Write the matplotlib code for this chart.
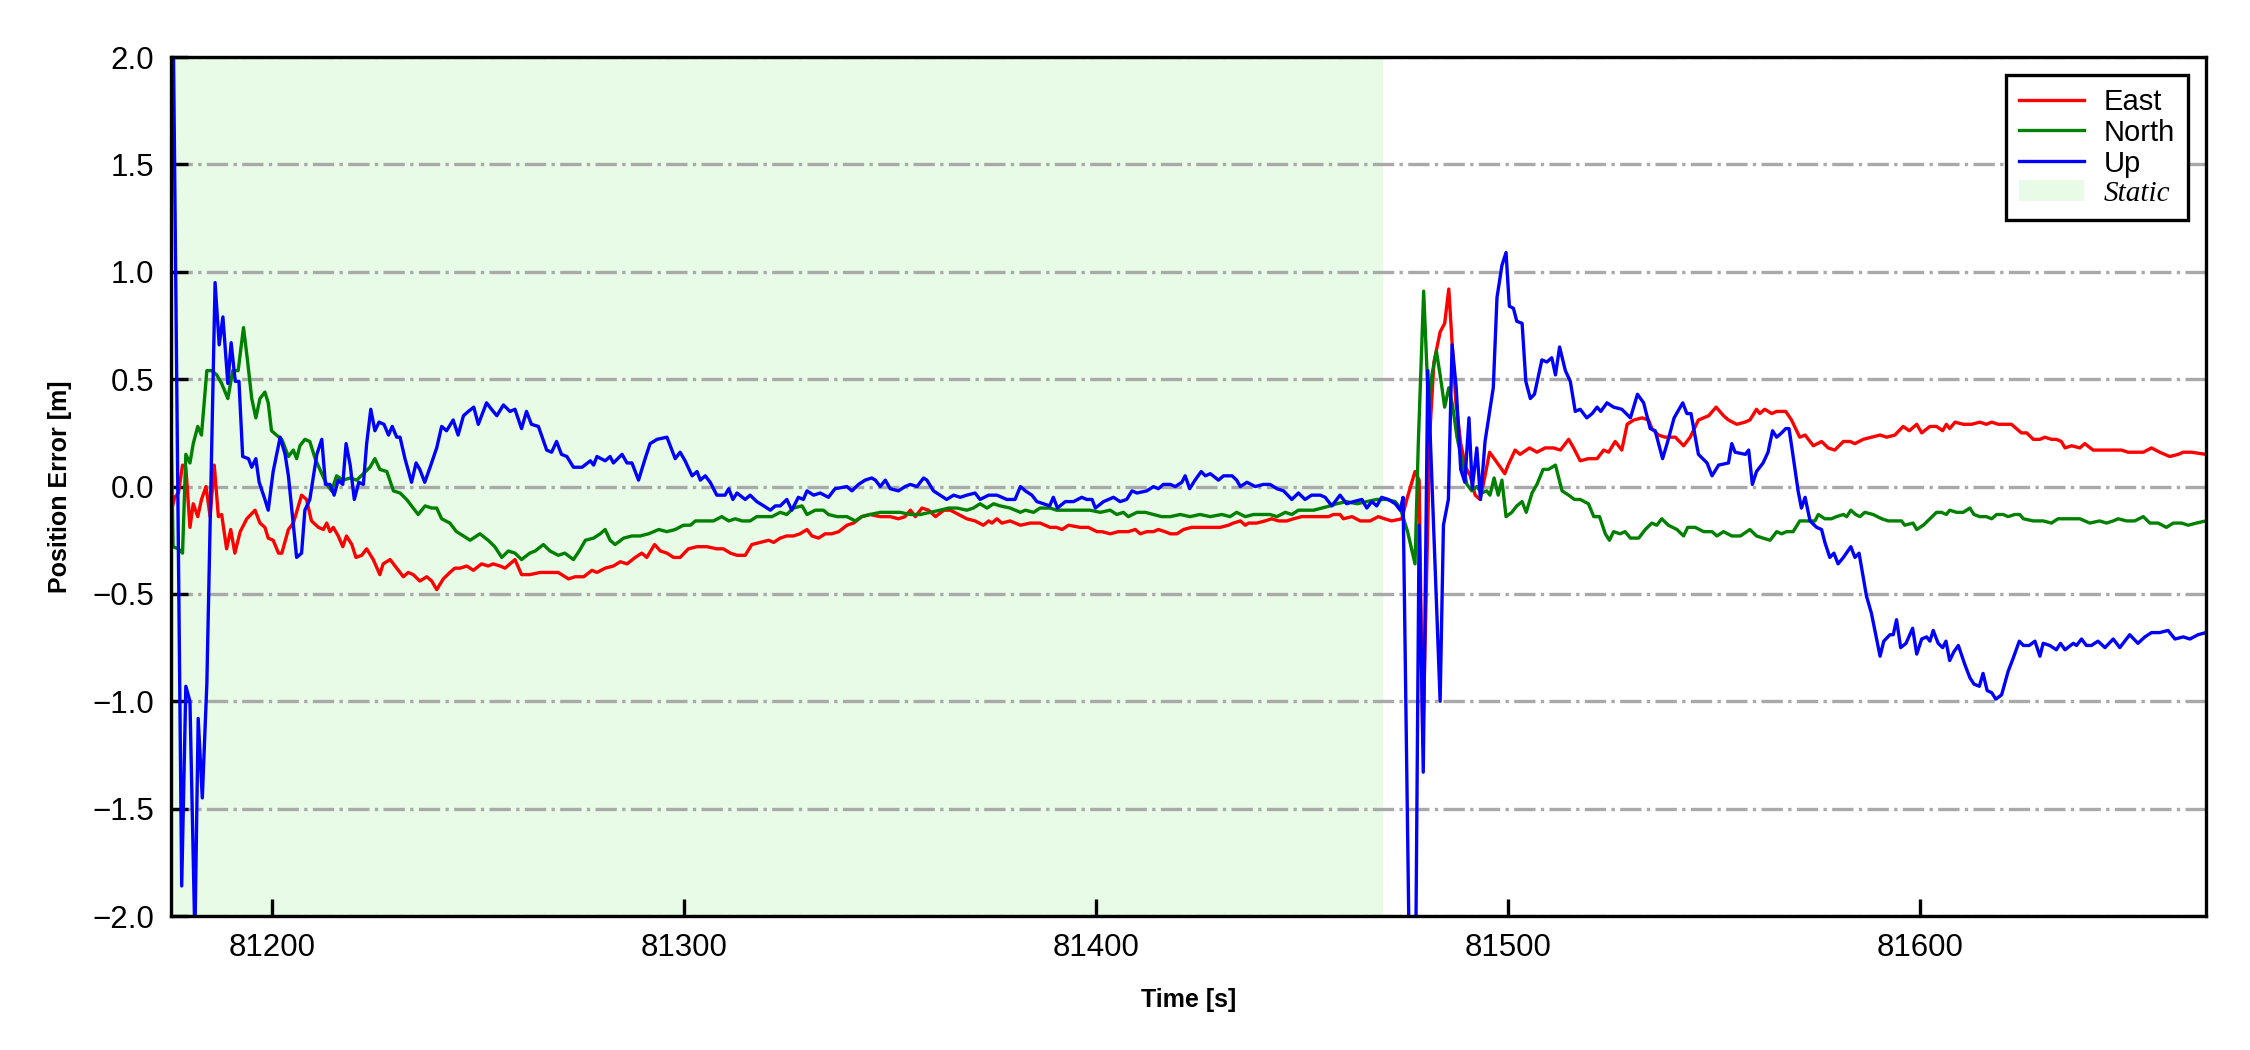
import matplotlib
matplotlib.use("Agg")
import matplotlib.pyplot as plt
from matplotlib.patches import Patch

plt.rcParams["font.family"] = ["Liberation Sans", "DejaVu Sans"]

# static period (start, end) [s]
STATIC_SPAN = (81175.4, 81469.7)
X_RANGE = (81175.4, 81669.4)

east_t = [81175.4, 81176.3, 81177.2, 81178.2, 81179.0, 81180.0, 81180.8, 81181.9, 81182.8, 81183.9,
          81184.9, 81185.9, 81186.9, 81187.7, 81188.9, 81189.9, 81190.9, 81192.2, 81193.8, 81195.8,
          81197.0, 81198.2, 81199.0, 81200.2, 81201.5, 81202.3, 81203.9, 81205.1, 81207.1, 81208.3,
          81209.5, 81211.2, 81212.4, 81213.2, 81214.0, 81214.8, 81216.0, 81217.1, 81218.0, 81219.3,
          81220.3, 81221.7, 81222.9, 81224.5, 81226.1, 81226.9, 81228.6, 81230.2, 81231.8, 81233.0,
          81234.2, 81235.8, 81237.5, 81238.7, 81239.9, 81241.5, 81243.1, 81244.3, 81245.6, 81247.2,
          81248.8, 81250.8, 81252.4, 81253.6, 81255.3, 81256.5, 81257.7, 81258.9, 81260.5, 81262.5,
          81265.0, 81267.4, 81269.4, 81271.9, 81273.5, 81275.6, 81277.6, 81278.8, 81280.8, 81282.8,
          81284.5, 81286.1, 81288.1, 81289.7, 81290.9, 81292.8, 81294.2, 81295.8, 81297.4, 81299.0,
          81301.0, 81303.1, 81305.5, 81307.9, 81309.5, 81311.2, 81312.8, 81314.8, 81316.4, 81318.4,
          81320.5, 81321.7, 81323.3, 81324.9, 81326.5, 81328.1, 81329.8, 81331.0, 81332.6, 81334.2,
          81335.8, 81337.5, 81339.5, 81341.1, 81343.1, 81345.1, 81347.6, 81350.0, 81352.0, 81353.6,
          81354.9, 81356.1, 81357.7, 81359.3, 81361.0, 81363.0, 81364.6, 81366.6, 81368.6, 81370.6,
          81372.6, 81373.9, 81374.7, 81375.9, 81377.1, 81379.1, 81381.6, 81384.0, 81386.4, 81388.8,
          81390.4, 81391.7, 81393.3, 81396.1, 81398.1, 81400.2, 81401.4, 81403.4, 81405.4, 81407.8,
          81409.5, 81410.7, 81412.3, 81413.9, 81415.1, 81416.7, 81418.0, 81419.6, 81421.2, 81423.2,
          81425.6, 81428.1, 81430.1, 81432.1, 81433.3, 81435.0, 81436.2, 81437.0, 81439.0, 81441.0,
          81442.6, 81444.3, 81446.3, 81447.9, 81449.9, 81451.9, 81454.4, 81456.4, 81457.6, 81459.2,
          81460.0, 81462.1, 81464.1, 81466.5, 81468.5, 81470.0, 81471.7, 81474.2, 81475.4, 81477.4,
          81478.4, 81479.3, 81481.0, 81482.0, 81483.5, 81484.6, 81485.6, 81486.4, 81487.3, 81488.5,
          81489.7, 81490.8, 81492.0, 81493.2, 81494.4, 81495.5, 81497.0, 81499.2, 81500.0, 81501.7,
          81502.9, 81505.2, 81507.0, 81509.0, 81511.0, 81512.7, 81514.7, 81515.9, 81517.5, 81519.5,
          81521.6, 81523.2, 81524.4, 81526.0, 81527.6, 81528.9, 81530.5, 81532.5, 81534.1, 81534.9,
          81536.5, 81538.1, 81540.6, 81542.6, 81544.2, 81546.2, 81548.7, 81550.5, 81552.3, 81553.5,
          81555.5, 81557.5, 81558.7, 81560.3, 81561.1, 81562.3, 81564.0, 81565.2, 81567.4, 81568.8,
          81570.8, 81572.1, 81574.1, 81576.1, 81577.7, 81579.3, 81581.4, 81583.0, 81584.2, 81586.2,
          81588.2, 81590.3, 81591.9, 81593.9, 81595.9, 81597.4, 81599.2, 81600.4, 81602.4, 81604.0,
          81605.5, 81606.4, 81607.2, 81608.5, 81610.5, 81612.5, 81614.5, 81616.1, 81617.4, 81619.0,
          81620.6, 81622.2, 81623.4, 81624.6, 81625.9, 81627.5, 81629.1, 81630.3, 81631.9, 81633.1,
          81634.3, 81635.2, 81636.8, 81638.8, 81640.0, 81642.0, 81644.5, 81646.9, 81648.9, 81650.5,
          81652.6, 81654.2, 81656.2, 81658.2, 81660.6, 81662.7, 81663.9, 81665.9, 81669.4]
east = [-0.12, -0.05, -0.03, 0.10, 0.09, -0.19, -0.08, -0.14, -0.06, 0.00,
        -0.14, 0.10, -0.14, -0.13, -0.29, -0.20, -0.31, -0.21, -0.15, -0.11,
        -0.17, -0.19, -0.24, -0.25, -0.31, -0.31, -0.20, -0.17, -0.04, -0.06,
        -0.16, -0.19, -0.20, -0.17, -0.21, -0.19, -0.23, -0.28, -0.23, -0.27,
        -0.33, -0.32, -0.29, -0.34, -0.41, -0.36, -0.34, -0.38, -0.42, -0.40,
        -0.41, -0.44, -0.42, -0.44, -0.48, -0.43, -0.40, -0.38, -0.38, -0.37,
        -0.39, -0.36, -0.37, -0.36, -0.37, -0.38, -0.36, -0.34, -0.41, -0.41,
        -0.40, -0.40, -0.40, -0.43, -0.42, -0.42, -0.39, -0.40, -0.38, -0.37,
        -0.35, -0.36, -0.33, -0.31, -0.33, -0.27, -0.30, -0.31, -0.33, -0.33,
        -0.29, -0.28, -0.28, -0.29, -0.29, -0.31, -0.32, -0.32, -0.27, -0.26,
        -0.25, -0.26, -0.24, -0.23, -0.23, -0.22, -0.20, -0.23, -0.24, -0.22,
        -0.22, -0.21, -0.18, -0.17, -0.14, -0.13, -0.14, -0.14, -0.15, -0.14,
        -0.11, -0.14, -0.10, -0.11, -0.14, -0.11, -0.11, -0.13, -0.15, -0.16,
        -0.18, -0.16, -0.17, -0.15, -0.17, -0.16, -0.18, -0.17, -0.17, -0.19,
        -0.19, -0.20, -0.18, -0.19, -0.19, -0.21, -0.21, -0.22, -0.21, -0.21,
        -0.20, -0.22, -0.21, -0.21, -0.20, -0.21, -0.22, -0.22, -0.20, -0.19,
        -0.19, -0.19, -0.19, -0.18, -0.17, -0.16, -0.18, -0.17, -0.17, -0.16,
        -0.15, -0.16, -0.16, -0.15, -0.14, -0.14, -0.14, -0.14, -0.13, -0.13,
        -0.15, -0.14, -0.16, -0.16, -0.14, -0.15, -0.16, -0.15, -0.06, 0.07,
        0.03, -1.20, 0.25, 0.58, 0.72, 0.76, 0.92, 0.67, 0.40, 0.20,
        0.09, 0.05, -0.04, -0.06, 0.05, 0.16, 0.12, 0.06, 0.10, 0.17,
        0.15, 0.18, 0.16, 0.18, 0.18, 0.17, 0.22, 0.18, 0.12, 0.13,
        0.13, 0.17, 0.16, 0.21, 0.17, 0.29, 0.31, 0.32, 0.31, 0.27,
        0.24, 0.23, 0.23, 0.19, 0.23, 0.31, 0.33, 0.37, 0.33, 0.31,
        0.29, 0.30, 0.31, 0.36, 0.34, 0.36, 0.34, 0.35, 0.35, 0.31,
        0.23, 0.24, 0.19, 0.21, 0.18, 0.17, 0.21, 0.21, 0.20, 0.22,
        0.23, 0.24, 0.23, 0.24, 0.28, 0.26, 0.29, 0.25, 0.28, 0.28,
        0.26, 0.29, 0.27, 0.30, 0.29, 0.29, 0.30, 0.29, 0.30, 0.29,
        0.29, 0.29, 0.27, 0.25, 0.25, 0.22, 0.22, 0.23, 0.22, 0.22,
        0.21, 0.18, 0.19, 0.18, 0.20, 0.17, 0.17, 0.17, 0.17, 0.16,
        0.16, 0.16, 0.18, 0.16, 0.14, 0.15, 0.16, 0.16, 0.15]

north_t = [81175.4, 81175.9, 81177.2, 81178.2, 81179.0, 81180.0, 81180.8, 81181.9, 81182.8, 81184.1,
           81185.3, 81186.5, 81187.7, 81189.2, 81190.4, 81191.7, 81193.0, 81193.9, 81195.0, 81196.0,
           81197.0, 81198.2, 81199.0, 81199.8, 81201.0, 81202.3, 81203.9, 81205.1, 81205.9, 81206.7,
           81207.9, 81209.1, 81210.4, 81212.0, 81213.2, 81214.4, 81215.6, 81217.2, 81218.9, 81220.5,
           81222.1, 81223.7, 81224.9, 81226.1, 81227.8, 81229.4, 81231.0, 81232.6, 81234.2, 81235.4,
           81237.1, 81238.7, 81239.9, 81241.1, 81243.1, 81244.7, 81246.4, 81248.0, 81250.4, 81252.4,
           81254.0, 81255.7, 81257.3, 81258.9, 81260.5, 81262.5, 81263.8, 81265.8, 81267.4, 81269.4,
           81271.0, 81273.1, 81274.5, 81276.0, 81278.0, 81279.6, 81280.8, 81282.0, 81283.2, 81285.3,
           81287.3, 81289.3, 81291.3, 81292.6, 81293.8, 81295.8, 81297.8, 81299.8, 81301.5, 81302.7,
           81303.9, 81305.5, 81307.1, 81309.1, 81310.8, 81312.4, 81314.0, 81316.0, 81317.6, 81319.3,
           81321.3, 81323.3, 81324.9, 81326.5, 81328.6, 81329.8, 81331.8, 81333.8, 81335.0, 81337.1,
           81339.5, 81341.5, 81343.1, 81345.1, 81347.6, 81350.0, 81352.4, 81354.9, 81357.3, 81359.7,
           81362.1, 81364.2, 81366.2, 81368.6, 81370.2, 81371.8, 81373.5, 81375.1, 81376.7, 81379.1,
           81381.6, 81382.8, 81384.8, 81386.4, 81388.8, 81390.4, 81392.9, 81395.3, 81398.5, 81401.0,
           81403.4, 81405.0, 81406.6, 81407.8, 81409.9, 81411.9, 81413.9, 81415.9, 81418.0, 81420.4,
           81422.8, 81425.2, 81427.7, 81430.5, 81432.5, 81434.1, 81436.2, 81438.2, 81440.2, 81442.2,
           81443.9, 81445.9, 81447.5, 81449.1, 81450.7, 81452.8, 81454.8, 81456.8, 81458.4, 81460.8,
           81463.3, 81465.7, 81468.1, 81470.5, 81472.6, 81473.8, 81475.6, 81477.4, 81478.2, 81479.5,
           81480.7, 81481.5, 81482.6, 81483.5, 81484.6, 81485.6, 81486.5, 81487.6, 81488.8, 81490.0,
           81491.2, 81492.4, 81493.6, 81494.8, 81495.6, 81496.6, 81497.6, 81498.5, 81499.5, 81500.9,
           81502.1, 81503.4, 81504.4, 81505.8, 81507.0, 81508.5, 81509.8, 81511.5, 81513.1, 81514.7,
           81516.1, 81517.5, 81519.5, 81520.8, 81522.2, 81523.6, 81524.6, 81525.6, 81527.2, 81528.4,
           81529.7, 81531.7, 81533.3, 81534.9, 81536.1, 81537.3, 81538.9, 81541.0, 81542.6, 81543.6,
           81545.4, 81547.5, 81549.5, 81550.7, 81552.3, 81554.3, 81556.4, 81558.7, 81560.3, 81561.9,
           81563.6, 81565.2, 81566.4, 81567.6, 81569.2, 81570.8, 81572.5, 81574.5, 81575.3, 81576.9,
           81578.5, 81579.7, 81581.4, 81582.2, 81583.2, 81584.4, 81585.4, 81586.6, 81588.6, 81590.7,
           81592.3, 81593.9, 81595.5, 81596.3, 81598.3, 81599.2, 81600.8, 81602.4, 81604.0, 81605.2,
           81606.4, 81607.2, 81608.9, 81610.5, 81612.1, 81613.1, 81614.5, 81616.1, 81617.4, 81618.6,
           81620.2, 81621.4, 81623.0, 81624.2, 81625.1, 81627.5, 81629.9, 81631.9, 81633.5, 81635.2,
           81637.2, 81638.8, 81641.2, 81643.6, 81645.3, 81646.9, 81648.1, 81650.1, 81652.1, 81654.2,
           81655.8, 81657.8, 81659.8, 81661.5, 81663.5, 81665.1, 81667.1, 81669.4]
north = [0.30, -0.28, -0.29, -0.31, 0.15, 0.11, 0.20, 0.28, 0.24, 0.54,
         0.54, 0.52, 0.48, 0.41, 0.54, 0.54, 0.74, 0.60, 0.41, 0.32,
         0.41, 0.44, 0.39, 0.26, 0.24, 0.22, 0.14, 0.17, 0.13, 0.19,
         0.22, 0.21, 0.13, 0.06, 0.01, -0.02, 0.05, 0.03, 0.04, 0.03,
         0.06, 0.09, 0.13, 0.08, 0.07, -0.02, -0.03, -0.06, -0.10, -0.13,
         -0.09, -0.10, -0.10, -0.15, -0.17, -0.21, -0.23, -0.25, -0.22, -0.25,
         -0.28, -0.33, -0.30, -0.31, -0.34, -0.31, -0.30, -0.27, -0.30, -0.32,
         -0.31, -0.34, -0.30, -0.25, -0.24, -0.22, -0.20, -0.25, -0.27, -0.24,
         -0.23, -0.23, -0.22, -0.21, -0.20, -0.21, -0.20, -0.18, -0.18, -0.16,
         -0.16, -0.16, -0.16, -0.14, -0.16, -0.15, -0.16, -0.16, -0.14, -0.14,
         -0.14, -0.12, -0.13, -0.10, -0.09, -0.13, -0.11, -0.11, -0.13, -0.14,
         -0.14, -0.16, -0.14, -0.13, -0.12, -0.12, -0.12, -0.13, -0.13, -0.12,
         -0.11, -0.10, -0.10, -0.11, -0.10, -0.08, -0.10, -0.08, -0.09, -0.10,
         -0.12, -0.11, -0.12, -0.10, -0.10, -0.11, -0.11, -0.11, -0.11, -0.12,
         -0.11, -0.13, -0.12, -0.14, -0.12, -0.12, -0.13, -0.14, -0.14, -0.13,
         -0.14, -0.13, -0.14, -0.13, -0.14, -0.12, -0.14, -0.13, -0.13, -0.13,
         -0.14, -0.12, -0.13, -0.11, -0.11, -0.11, -0.10, -0.09, -0.08, -0.07,
         -0.08, -0.07, -0.06, -0.06, -0.07, -0.10, -0.21, -0.36, 0.20, 0.91,
         0.36, 0.52, 0.63, 0.52, 0.37, 0.46, 0.38, 0.23, 0.12, 0.01,
         -0.02, 0.00, -0.03, -0.02, -0.04, 0.04, -0.04, 0.03, -0.14, -0.12,
         -0.09, -0.07, -0.12, -0.03, 0.01, 0.08, 0.08, 0.10, -0.02, -0.04,
         -0.06, -0.06, -0.08, -0.14, -0.14, -0.22, -0.25, -0.21, -0.22, -0.21,
         -0.24, -0.24, -0.20, -0.17, -0.18, -0.15, -0.18, -0.20, -0.23, -0.19,
         -0.19, -0.21, -0.21, -0.23, -0.21, -0.23, -0.23, -0.20, -0.23, -0.24,
         -0.25, -0.21, -0.22, -0.21, -0.21, -0.16, -0.16, -0.16, -0.13, -0.15,
         -0.15, -0.14, -0.13, -0.14, -0.11, -0.13, -0.14, -0.12, -0.13, -0.15,
         -0.16, -0.16, -0.16, -0.18, -0.17, -0.20, -0.18, -0.15, -0.12, -0.12,
         -0.13, -0.11, -0.12, -0.12, -0.10, -0.13, -0.14, -0.14, -0.15, -0.13,
         -0.13, -0.14, -0.13, -0.13, -0.15, -0.16, -0.16, -0.17, -0.15, -0.15,
         -0.15, -0.15, -0.17, -0.16, -0.17, -0.16, -0.15, -0.16, -0.16, -0.14,
         -0.17, -0.17, -0.19, -0.17, -0.17, -0.18, -0.17, -0.16]

up_t = [81175.4, 81178.0, 81179.0, 81180.0, 81181.2, 81182.0, 81183.0, 81184.1, 81186.1, 81187.1,
        81188.0, 81189.2, 81190.0, 81191.0, 81191.9, 81192.8, 81194.2, 81195.0, 81196.0, 81196.8,
        81198.2, 81199.0, 81200.2, 81201.9, 81203.1, 81203.9, 81205.9, 81207.1, 81207.9, 81209.1,
        81210.8, 81212.0, 81212.9, 81214.0, 81215.0, 81216.0, 81217.1, 81217.9, 81218.9, 81219.9,
        81221.0, 81222.1, 81222.9, 81223.9, 81224.9, 81225.9, 81227.1, 81228.2, 81229.1, 81230.2,
        81231.0, 81232.2, 81233.8, 81234.9, 81235.8, 81237.0, 81238.3, 81239.9, 81241.1, 81242.3,
        81243.9, 81245.1, 81246.4, 81247.6, 81248.9, 81250.0, 81250.8, 81252.0, 81253.2, 81254.5,
        81256.1, 81257.7, 81258.9, 81260.5, 81261.7, 81262.9, 81264.6, 81266.6, 81267.8, 81269.0,
        81270.2, 81271.5, 81273.1, 81275.2, 81277.2, 81278.0, 81278.8, 81280.8, 81282.0, 81282.8,
        81284.9, 81286.1, 81287.3, 81288.9, 81290.5, 81291.7, 81293.4, 81295.8, 81297.8, 81299.0,
        81300.2, 81301.9, 81303.1, 81303.9, 81305.1, 81306.3, 81307.9, 81309.9, 81310.8, 81311.8,
        81312.8, 81314.8, 81316.0, 81317.6, 81319.3, 81320.9, 81322.1, 81323.3, 81324.9, 81326.1,
        81327.7, 81328.9, 81329.8, 81331.4, 81333.0, 81335.0, 81336.6, 81339.5, 81340.7, 81342.3,
        81343.9, 81345.5, 81346.4, 81347.6, 81348.8, 81350.0, 81352.0, 81353.6, 81354.9, 81356.5,
        81358.1, 81358.9, 81360.5, 81362.1, 81363.7, 81365.4, 81367.0, 81368.6, 81370.6, 81371.8,
        81373.9, 81375.9, 81378.3, 81380.3, 81381.6, 81382.8, 81384.4, 81385.6, 81387.2, 81388.7,
        81389.6, 81390.6, 81392.5, 81394.5, 81396.5, 81397.7, 81399.0, 81399.8, 81401.8, 81404.2,
        81405.8, 81407.4, 81408.7, 81409.9, 81412.3, 81413.9, 81415.1, 81416.3, 81418.0, 81419.2,
        81420.8, 81421.6, 81422.7, 81424.0, 81425.5, 81426.5, 81427.7, 81429.7, 81430.9, 81433.0,
        81434.1, 81435.0, 81436.6, 81438.6, 81440.6, 81442.2, 81443.9, 81445.5, 81447.5, 81449.1,
        81450.7, 81452.3, 81454.4, 81455.6, 81457.2, 81459.2, 81460.8, 81462.5, 81464.5, 81465.7,
        81466.9, 81468.1, 81469.3, 81470.9, 81472.6, 81473.8, 81474.5, 81476.3, 81477.4, 81478.4,
        81479.4, 81480.5, 81483.5, 81484.3, 81485.5, 81486.4, 81487.4, 81488.5, 81489.5, 81490.5,
        81491.3, 81492.4, 81493.3, 81494.4, 81496.4, 81497.3, 81498.5, 81499.5, 81500.3, 81501.3,
        81502.1, 81503.4, 81504.3, 81505.4, 81506.4, 81508.2, 81509.4, 81510.6, 81511.5, 81512.5,
        81513.9, 81515.1, 81516.3, 81517.5, 81519.1, 81520.4, 81521.6, 81522.5, 81524.0, 81525.6,
        81527.6, 81529.7, 81531.4, 81532.9, 81534.5, 81535.7, 81537.5, 81538.6, 81540.3, 81542.4,
        81543.4, 81544.4, 81546.2, 81548.3, 81549.5, 81551.1, 81553.5, 81554.3, 81555.1, 81557.6,
        81558.4, 81559.3, 81560.3, 81561.9, 81563.1, 81564.2, 81565.2, 81566.4, 81567.4, 81568.2,
        81569.2, 81570.4, 81571.2, 81572.1, 81573.3, 81574.9, 81576.1, 81576.9, 81578.1, 81579.1,
        81580.1, 81581.4, 81583.2, 81584.2, 81585.2, 81587.0, 81588.2, 81590.3, 81591.2, 81592.7,
        81593.5, 81594.3, 81595.3, 81596.6, 81598.2, 81599.2, 81600.4, 81601.6, 81602.4, 81603.2,
        81604.4, 81605.5, 81606.3, 81607.2, 81608.2, 81609.3, 81610.9, 81612.1, 81613.1, 81614.4,
        81615.3, 81616.3, 81617.4, 81618.4, 81619.8, 81621.4, 81622.6, 81624.1, 81625.1, 81626.5,
        81627.9, 81629.1, 81629.9, 81631.5, 81633.1, 81634.1, 81635.2, 81637.2, 81638.0, 81639.2,
        81640.4, 81641.6, 81643.2, 81644.9, 81646.9, 81648.5, 81650.9, 81652.9, 81654.6, 81656.2,
        81658.2, 81660.2, 81661.9, 81663.9, 81665.5, 81667.5, 81669.4]
up = [3.20, -1.86, -0.93, -1.00, -2.10, -1.08, -1.45, -0.92, 0.95, 0.66,
      0.79, 0.48, 0.67, 0.49, 0.49, 0.14, 0.13, 0.09, 0.13, 0.02,
      -0.06, -0.11, 0.07, 0.23, 0.15, 0.05, -0.33, -0.31, -0.11, -0.06,
      0.15, 0.22, 0.01, 0.01, -0.04, 0.03, 0.01, 0.20, 0.10, -0.06,
      0.02, 0.01, 0.20, 0.36, 0.26, 0.30, 0.29, 0.24, 0.28, 0.23,
      0.23, 0.13, 0.02, 0.11, 0.08, 0.02, 0.09, 0.18, 0.28, 0.26,
      0.31, 0.24, 0.33, 0.35, 0.37, 0.29, 0.33, 0.39, 0.36, 0.33,
      0.38, 0.35, 0.36, 0.27, 0.35, 0.29, 0.28, 0.17, 0.16, 0.21,
      0.15, 0.14, 0.09, 0.09, 0.12, 0.10, 0.14, 0.12, 0.14, 0.11,
      0.15, 0.11, 0.11, 0.03, 0.13, 0.20, 0.22, 0.23, 0.13, 0.16,
      0.12, 0.05, 0.07, 0.03, 0.05, 0.02, -0.04, -0.04, -0.01, -0.06,
      -0.03, -0.06, -0.04, -0.07, -0.09, -0.11, -0.09, -0.09, -0.06, -0.11,
      -0.05, -0.06, -0.02, -0.04, -0.03, -0.05, -0.01, 0.00, -0.02, 0.01,
      0.03, 0.04, 0.03, 0.00, 0.03, -0.01, -0.02, 0.00, 0.01, 0.00,
      0.04, 0.03, -0.02, -0.04, -0.06, -0.04, -0.05, -0.04, -0.03, -0.06,
      -0.04, -0.04, -0.06, -0.06, 0.00, -0.02, -0.04, -0.07, -0.08, -0.09,
      -0.05, -0.10, -0.07, -0.07, -0.05, -0.06, -0.06, -0.10, -0.07, -0.05,
      -0.07, -0.06, -0.02, -0.03, -0.02, 0.00, -0.01, 0.01, 0.01, 0.00,
      0.02, 0.05, -0.01, 0.03, 0.07, 0.05, 0.06, 0.03, 0.05, 0.05,
      0.03, 0.00, 0.02, 0.00, 0.01, 0.01, -0.01, -0.02, -0.06, -0.03,
      -0.06, -0.04, -0.04, -0.05, -0.09, -0.04, -0.08, -0.07, -0.06, -0.10,
      -0.07, -0.09, -0.05, -0.06, -0.08, -0.11, -0.05, -2.60, -2.60, -0.18,
      -1.33, 0.54, -1.00, -0.18, -0.06, 0.66, 0.46, 0.08, 0.02, 0.32,
      -0.01, 0.18, -0.06, 0.21, 0.46, 0.88, 1.03, 1.09, 0.84, 0.83,
      0.77, 0.76, 0.49, 0.41, 0.43, 0.59, 0.58, 0.60, 0.52, 0.65,
      0.54, 0.49, 0.35, 0.36, 0.32, 0.34, 0.37, 0.35, 0.39, 0.37,
      0.36, 0.32, 0.43, 0.39, 0.27, 0.26, 0.13, 0.20, 0.32, 0.39,
      0.34, 0.34, 0.15, 0.11, 0.05, 0.10, 0.11, 0.20, 0.16, 0.15,
      0.17, 0.01, 0.07, 0.11, 0.16, 0.26, 0.23, 0.25, 0.27, 0.27,
      0.14, -0.02, -0.10, -0.05, -0.16, -0.19, -0.20, -0.26, -0.33, -0.31,
      -0.36, -0.33, -0.28, -0.33, -0.31, -0.51, -0.59, -0.79, -0.72, -0.69,
      -0.69, -0.62, -0.75, -0.73, -0.66, -0.78, -0.71, -0.70, -0.72, -0.67,
      -0.73, -0.75, -0.72, -0.81, -0.77, -0.74, -0.83, -0.89, -0.92, -0.93,
      -0.87, -0.95, -0.96, -0.99, -0.97, -0.86, -0.80, -0.72, -0.74, -0.74,
      -0.72, -0.79, -0.73, -0.74, -0.76, -0.73, -0.76, -0.73, -0.74, -0.71,
      -0.74, -0.74, -0.72, -0.75, -0.71, -0.75, -0.69, -0.73, -0.70, -0.68,
      -0.68, -0.67, -0.71, -0.70, -0.71, -0.69, -0.68]

STATIC_COLOR = "#e7fbe7"

fig = plt.figure(figsize=(7.5, 3.5), dpi=300)
ax = fig.add_axes([0.076, 0.1276, 0.9044, 0.818])

ax.axvspan(*STATIC_SPAN, color=STATIC_COLOR, lw=0, zorder=0)
ax.plot(east_t, east, color="red", lw=0.8, label="East")
ax.plot(north_t, north, color="green", lw=0.8, label="North")
ax.plot(up_t, up, color="blue", lw=0.8, label="Up")

ax.set_xlim(*X_RANGE)
ax.set_ylim(-2.0, 2.0)
ax.set_yticks([-2.0, -1.5, -1.0, -0.5, 0.0, 0.5, 1.0, 1.5, 2.0])
ax.set_xticks([81200, 81300, 81400, 81500, 81600])
ax.yaxis.grid(True, linestyle="-.", color="darkgray", lw=0.8)
ax.set_axisbelow(True)

ax.tick_params(direction="in", length=4, width=0.8, labelsize=7.5, pad=4)
for sp in ax.spines.values():
    sp.set_linewidth(0.8)

ax.set_xlabel("Time [s]", fontsize=6, fontweight="bold", labelpad=6)
ax.set_ylabel("Position Error [m]", fontsize=6, fontweight="bold", labelpad=5)

handles, labels = ax.get_legend_handles_labels()
handles.append(Patch(facecolor=STATIC_COLOR, edgecolor="none"))
labels.append("Static")
leg = ax.legend(handles, labels, loc="upper right", fontsize=7, fancybox=False,
                edgecolor="black", framealpha=1, handlelength=2.2, handletextpad=0.7,
                labelspacing=0.1, borderpad=0.45, borderaxespad=0.6)
leg.get_frame().set_linewidth(0.8)
static_txt = leg.get_texts()[-1]
static_txt.set_fontfamily("Liberation Serif")
static_txt.set_fontstyle("italic")

fig.savefig("out.png", dpi=300)
